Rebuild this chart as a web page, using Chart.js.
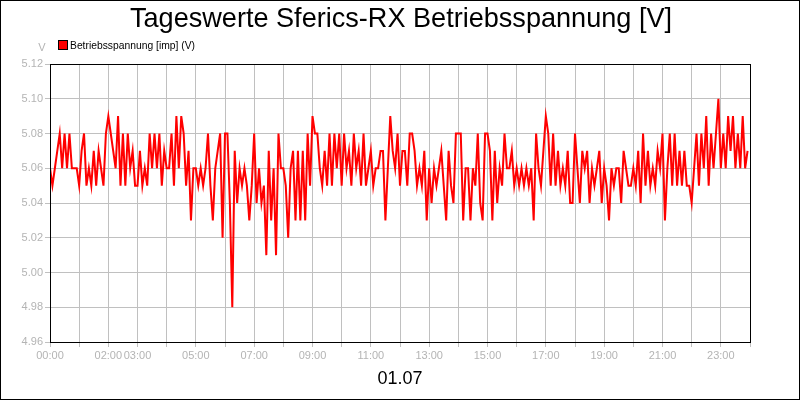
<!DOCTYPE html>
<html>
<head>
<meta charset="utf-8">
<script src="https://cdn.jsdelivr.net/npm/chart.js@4.4.0/dist/chart.umd.min.js"></script>
<style>
  body { margin: 0; background: #fff; }
  canvas { display: block; }
</style>
</head>
<body>
<canvas id="chart" width="800" height="400"></canvas>
<script>
// Tageswerte 01.07, 5-Minuten-Werte (12 pro Stunde)
const hourLabels = ["00:00", "", "02:00", "03:00", "", "05:00", "", "07:00", "", "09:00", "", "11:00",
                    "", "13:00", "", "15:00", "", "17:00", "", "19:00", "", "21:00", "", "23:00", ""];
const seriesName = "Betriebsspannung [imp] (V)";
const yTicks = { min: 4.96, max: 5.12, step: 0.02 };

const voltage = [
  // 00
  5.06, 5.05, 5.06, 5.07, 5.08, 5.06, 5.08, 5.06, 5.08, 5.06, 5.06, 5.06,
  // 01
  5.05, 5.07, 5.08, 5.05, 5.06, 5.05, 5.07, 5.05, 5.07, 5.06, 5.05, 5.08,
  // 02
  5.09, 5.08, 5.07, 5.06, 5.09, 5.05, 5.08, 5.05, 5.08, 5.06, 5.07, 5.05,
  // 03
  5.05, 5.07, 5.05, 5.06, 5.05, 5.08, 5.06, 5.08, 5.06, 5.08, 5.05, 5.07,
  // 04
  5.06, 5.06, 5.08, 5.05, 5.09, 5.06, 5.09, 5.08, 5.05, 5.07, 5.03, 5.06,
  // 05
  5.06, 5.05, 5.06, 5.05, 5.06, 5.08, 5.05, 5.03, 5.06, 5.07, 5.08, 5.02,
  // 06
  5.08, 5.08, 5.04, 4.98, 5.07, 5.04, 5.06, 5.05, 5.06, 5.05, 5.03, 5.05,
  // 07
  5.08, 5.04, 5.06, 5.04, 5.05, 5.01, 5.07, 5.03, 5.06, 5.01, 5.08, 5.06,
  // 08
  5.06, 5.05, 5.02, 5.06, 5.07, 5.03, 5.07, 5.03, 5.07, 5.03, 5.08, 5.05,
  // 09
  5.09, 5.08, 5.08, 5.06, 5.05, 5.07, 5.05, 5.08, 5.05, 5.08, 5.06, 5.08,
  // 10
  5.05, 5.08, 5.06, 5.07, 5.05, 5.08, 5.06, 5.07, 5.05, 5.08, 5.05, 5.06,
  // 11
  5.07, 5.05, 5.06, 5.06, 5.07, 5.07, 5.03, 5.06, 5.09, 5.07, 5.06, 5.08,
  // 12
  5.05, 5.07, 5.07, 5.05, 5.08, 5.08, 5.07, 5.05, 5.06, 5.05, 5.07, 5.03,
  // 13
  5.06, 5.04, 5.06, 5.05, 5.06, 5.07, 5.05, 5.03, 5.07, 5.05, 5.04, 5.08,
  // 14
  5.08, 5.08, 5.03, 5.06, 5.06, 5.03, 5.06, 5.05, 5.08, 5.04, 5.03, 5.08,
  // 15
  5.08, 5.07, 5.03, 5.07, 5.04, 5.06, 5.05, 5.08, 5.06, 5.06, 5.07, 5.05,
  // 16
  5.06, 5.05, 5.06, 5.05, 5.06, 5.05, 5.06, 5.03, 5.08, 5.06, 5.05, 5.07,
  // 17
  5.09, 5.08, 5.05, 5.08, 5.05, 5.07, 5.05, 5.06, 5.05, 5.07, 5.04, 5.04,
  // 18
  5.08, 5.06, 5.04, 5.07, 5.06, 5.07, 5.04, 5.06, 5.05, 5.06, 5.07, 5.04,
  // 19
  5.06, 5.05, 5.03, 5.06, 5.05, 5.06, 5.06, 5.04, 5.07, 5.06, 5.05, 5.05,
  // 20
  5.06, 5.05, 5.07, 5.04, 5.08, 5.05, 5.07, 5.05, 5.06, 5.05, 5.07, 5.06,
  // 21
  5.08, 5.03, 5.06, 5.08, 5.05, 5.08, 5.05, 5.07, 5.05, 5.07, 5.05, 5.05,
  // 22
  5.04, 5.06, 5.08, 5.05, 5.08, 5.06, 5.09, 5.05, 5.08, 5.06, 5.08, 5.10,
  // 23
  5.06, 5.08, 5.06, 5.09, 5.07, 5.09, 5.06, 5.08, 5.06, 5.09, 5.06, 5.07
];

const FONT = "'Liberation Sans', Arial, sans-serif";
const GREY = "#b4b4b4";

// Minuten seit Mitternacht
const points = voltage.map((v, i) => ({ x: i * 5, y: v }));

// Rahmen, Titel, Legende usw.
const decorations = {
  id: "decorations",
  afterDraw(chart) {
    const ctx = chart.ctx;
    const area = chart.chartArea;
    ctx.save();

    // Rahmen um das Diagramm
    ctx.strokeStyle = "#000";
    ctx.lineWidth = 1;
    ctx.strokeRect(area.left + 0.5, area.top + 0.5, area.right - area.left, area.bottom - area.top);
    ctx.strokeRect(0.5, 0.5, chart.width - 1, chart.height - 1);

    // Titel
    ctx.fillStyle = "#000";
    ctx.textAlign = "center";
    ctx.textBaseline = "alphabetic";
    ctx.font = "28px " + FONT;
    ctx.fillText("Tageswerte Sferics-RX Betriebsspannung [V]", 401, 27, 542);

    // Legende
    ctx.fillStyle = "#ff0000";
    ctx.fillRect(59, 41, 8, 8);
    ctx.strokeStyle = "#000";
    ctx.strokeRect(58.5, 40.5, 9, 9);
    ctx.fillStyle = "#000";
    ctx.textAlign = "left";
    ctx.font = "11px " + FONT;
    ctx.fillText(seriesName, 70, 49, 125);

    // Einheit
    ctx.fillStyle = GREY;
    ctx.textAlign = "center";
    ctx.fillText("V", 42, 51);

    // Datum
    ctx.fillStyle = "#000";
    ctx.font = "18px " + FONT;
    ctx.fillText("01.07", 400, 384);

    ctx.restore();
  }
};

new Chart(document.getElementById("chart"), {
  type: "line",
  data: {
    datasets: [{
      label: seriesName,
      data: points,
      borderColor: "#ff0000",
      backgroundColor: "#ff0000",
      borderWidth: 2,
      pointRadius: 0,
      tension: 0,
      fill: false
    }]
  },
  options: {
    responsive: false,
    animation: false,
    events: [],
    layout: { padding: { top: 64, right: 50, left: 0, bottom: 0 } },
    plugins: {
      legend: { display: false },
      title: { display: false },
      tooltip: { enabled: false }
    },
    scales: {
      x: {
        type: "linear",
        min: 0,
        max: 1440,
        afterFit(scale) { scale.height = 58; },
        afterBuildTicks(scale) {
          scale.ticks = hourLabels.map((_, h) => ({ value: h * 60 }));
        },
        ticks: {
          autoSkip: false,
          maxRotation: 0,
          padding: 2,
          color: GREY,
          font: { family: FONT, size: 11 },
          callback: (value) => hourLabels[Math.round(value / 60)]
        },
        grid: { color: "#c0c0c0", tickLength: 5, lineWidth: 1 },
        border: { color: "#000", width: 1 }
      },
      y: {
        min: yTicks.min,
        max: yTicks.max,
        afterFit(scale) { scale.width = 50; },
        ticks: {
          stepSize: yTicks.step,
          padding: 2,
          color: GREY,
          font: { family: FONT, size: 11 },
          callback: (value) => Number(value).toFixed(2)
        },
        grid: { color: "#c0c0c0", tickLength: 5, lineWidth: 1 },
        border: { color: "#000", width: 1 }
      }
    }
  },
  plugins: [decorations]
});
</script>
</body>
</html>
